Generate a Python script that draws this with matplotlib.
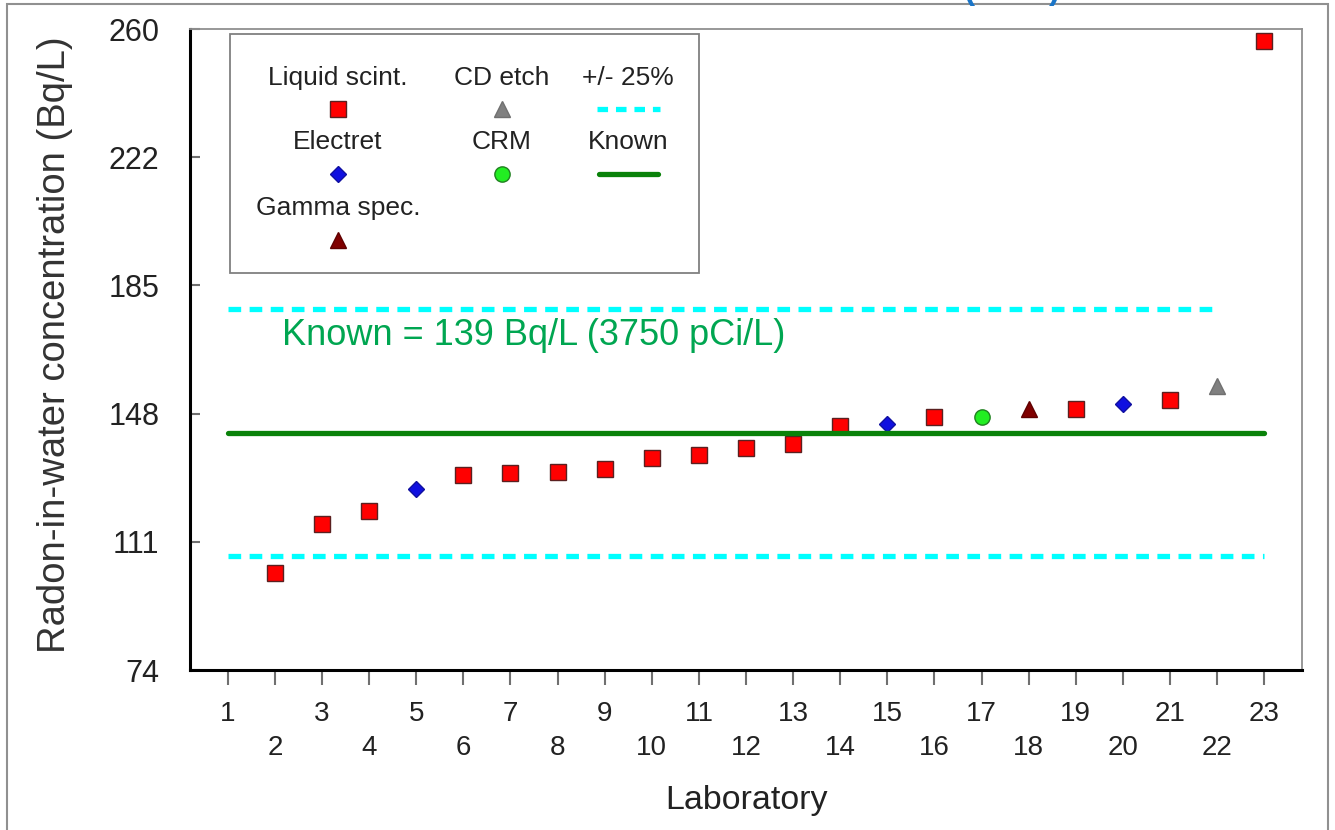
import matplotlib
matplotlib.use('Agg')
import matplotlib.pyplot as plt
from matplotlib.patches import Rectangle
from matplotlib.lines import Line2D

# --- data ---
labs = list(range(2, 24))
values = [102.1, 116.0, 119.9, 126.2, 130.3, 130.8, 131.1, 132.1, 135.1, 136.1,
          138.0, 139.2, 144.4, 144.9, 147.1, 147.1, 149.2, 149.4, 150.9, 151.9,
          156.0, 255.5]
methods = ['LS', 'LS', 'LS', 'EL', 'LS', 'LS', 'LS', 'LS', 'LS', 'LS',
           'LS', 'LS', 'LS', 'EL', 'LS', 'CRM', 'GS', 'LS', 'EL', 'LS',
           'CD', 'LS']
known = 142.5          # where the "Known" line sits in the picture
known_text = 'Known = 139 Bq/L (3750 pCi/L)'
ytick_pos = [74, 111, 148, 185, 222, 259]
ytick_labels = ['74', '111', '148', '185', '222', '260']

styles = {
    'LS':  dict(marker='s', ms=11, mfc='#ff0000', mec='#5a2020', label='Liquid scint.'),
    'EL':  dict(marker='D', ms=8, mfc='#1010e0', mec='#1010a0', label='Electret'),
    'GS':  dict(marker='^', ms=11.5, mfc='#800000', mec='#600000', label='Gamma spec.'),
    'CD':  dict(marker='^', ms=11.5, mfc='#808080', mec='#707070', label='CD etch'),
    'CRM': dict(marker='o', ms=11, mfc='#22ee22', mec='#208020', label='CRM'),
}

plt.rcParams['font.family'] = ['Liberation Sans', 'DejaVu Sans']

W, H = 1335, 830
fig = plt.figure(figsize=(W / 100, H / 100), dpi=100)
fig.patch.set_facecolor('white')


def fx(x):
    return x / W


def fy(y):
    return 1 - y / H


ax = fig.add_axes([fx(190), fy(670), (1302 - 190) / W, (670 - 29) / H])

# reference lines
ax.plot([1, 22], [known * 1.25] * 2, color='#00ffff', lw=3.8,
        dashes=(2.4, 1.6), dash_capstyle='butt', zorder=2)
ax.plot([1, 23], [known * 0.75] * 2, color='#00ffff', lw=3.8,
        dashes=(2.4, 1.6), dash_capstyle='butt', zorder=2)
ax.plot([1, 23], [known, known], color='#0a820a', lw=3.8,
        solid_capstyle='round', zorder=3)

# lab results
for m, st in styles.items():
    xs = [l for l, mm in zip(labs, methods) if mm == m]
    ys = [v for v, mm in zip(values, methods) if mm == m]
    ax.plot(xs, ys, ls='none', marker=st['marker'], ms=st['ms'],
            mfc=st['mfc'], mec=st['mec'], mew=1.0, zorder=2)

ax.text(fx(282), fy(335), known_text, transform=fig.transFigure,
        color='#00a651', fontsize=26, va='center', ha='left')

ax.set_xlim(0.2, 23.8)
ax.set_ylim(74, 259)
ax.set_yticks(ytick_pos)
ax.set_yticklabels(ytick_labels)
ax.set_xticks(range(1, 24, 2))
ax.set_xticks(range(2, 24, 2), minor=True)
ax.set_xticklabels([str(i) for i in range(1, 24, 2)])
ax.set_xticklabels([str(i) for i in range(2, 24, 2)], minor=True)
ax.tick_params(axis='x', which='both', direction='out', length=11, width=1.5,
               color='#707070', labelsize=20, labelcolor='#222222')
ax.tick_params(axis='x', which='major', pad=11)
ax.tick_params(axis='x', which='minor', pad=36)
ax.tick_params(axis='y', direction='in', length=7, width=1.5, color='#707070',
               labelsize=22, labelcolor='#222222', pad=22)

for s in ['left', 'bottom']:
    ax.spines[s].set_linewidth(2.2)
    ax.spines[s].set_color('black')
for s in ['top', 'right']:
    ax.spines[s].set_linewidth(1.3)
    ax.spines[s].set_color('#909090')

fig.text(fx(55), fy(345), 'Radon-in-water concentration (Bq/L)', rotation=90,
         ha='center', va='center', fontsize=27.5, color='#333333')
fig.text(fx(746), fy(800), 'Laboratory', ha='center', va='center',
         fontsize=24.5, color='#222222')

# legend drawn by hand: label above its symbol
fig.patches.append(Rectangle((fx(230), fy(273)), (699 - 230) / W, (273 - 34) / H,
                             transform=fig.transFigure, fill=False,
                             ec='#808080', lw=1.3))
cols = [338, 502, 628]
text_rows = [78, 142, 208]
mark_rows = [109, 174, 240]
leg_items = [('LS', 0, 0), ('EL', 0, 1), ('GS', 0, 2), ('CD', 1, 0), ('CRM', 1, 1)]
for key, c, r in leg_items:
    st = styles[key]
    fig.text(fx(cols[c]), fy(text_rows[r]), st['label'], ha='center', va='center',
             fontsize=19, color='#222222')
    fig.lines.append(Line2D([fx(cols[c])], [fy(mark_rows[r])], transform=fig.transFigure,
                            ls='none', marker=st['marker'], ms=st['ms'],
                            mfc=st['mfc'], mec=st['mec'], mew=1.0))
fig.text(fx(cols[2]), fy(text_rows[0]), '+/- 25%', ha='center', va='center',
         fontsize=19, color='#222222')
fig.lines.append(Line2D([fx(597), fx(660)], [fy(mark_rows[0])] * 2,
                        transform=fig.transFigure, color='#00ffff', lw=3.8,
                        dashes=(2.0, 1.5), dash_capstyle='butt'))
fig.text(fx(cols[2]), fy(text_rows[1]), 'Known', ha='center', va='center',
         fontsize=19, color='#222222')
fig.lines.append(Line2D([fx(599), fx(658)], [fy(mark_rows[1])] * 2,
                        transform=fig.transFigure, color='#0a820a', lw=3.8,
                        solid_capstyle='round'))

# outer frame of the slide and the clipped title above it (only the
# bottoms of its parentheses are visible in the reference)
fig.patches.append(Rectangle((fx(7), fy(840)), (1328 - 7) / W, (840 - 4) / H,
                             transform=fig.transFigure, fill=False,
                             ec='#909090', lw=1.5, clip_on=False))
fig.text(fx(1012), fy(-1), '(' + ' ' * 8 + ')', ha='center', va='baseline',
         fontsize=24, color='#1a75c8', fontweight='bold')

fig.savefig('out.png', dpi=100)
